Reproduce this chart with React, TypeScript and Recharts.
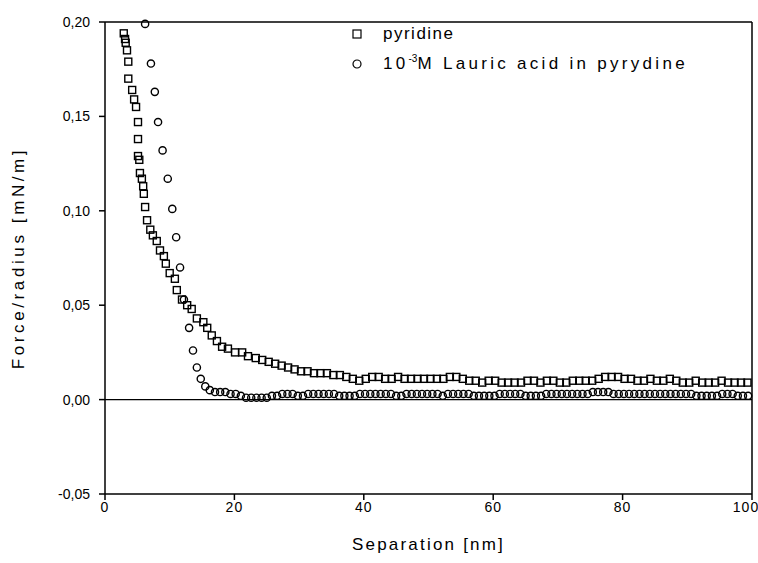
import { ScatterChart, Scatter, XAxis, YAxis, ReferenceLine } from "recharts";

// force/radius vs separation, [nm, mN/m]
const pyridine: [number, number][] = [
  [2.9, 0.194], [3.1, 0.191], [3.2, 0.189], [3.4, 0.185], [3.6, 0.179], [3.6, 0.17],
  [4.2, 0.164], [4.5, 0.159], [4.8, 0.155], [5.1, 0.147], [5.1, 0.138], [5.1, 0.129],
  [5.3, 0.127], [5.4, 0.12], [5.7, 0.117], [5.9, 0.113], [6.0, 0.109], [6.2, 0.102],
  [6.5, 0.095], [7.0, 0.09], [7.4, 0.087], [8.0, 0.084], [8.5, 0.079], [9.1, 0.076],
  [9.4, 0.072], [10.0, 0.067], [10.8, 0.064], [11.1, 0.058], [11.9, 0.053], [12.7, 0.05],
  [13.4, 0.048], [14.2, 0.043], [15.2, 0.041], [15.8, 0.038], [16.5, 0.034], [17.3, 0.031],
  [18.1, 0.028], [19.0, 0.027], [20.1, 0.025], [21.2, 0.025], [22.1, 0.023], [23.3, 0.022],
  [24.3, 0.021], [25.3, 0.02], [26.3, 0.019], [27.3, 0.018], [28.3, 0.017], [29.3, 0.016],
  [30.3, 0.015], [31.3, 0.015], [32.3, 0.014], [33.3, 0.014], [34.3, 0.014], [35.3, 0.013],
  [36.3, 0.013], [37.3, 0.012], [38.3, 0.011], [39.3, 0.01], [40.3, 0.011], [41.3, 0.012],
  [42.3, 0.012], [43.3, 0.011], [44.3, 0.011], [45.3, 0.012], [46.3, 0.011], [47.3, 0.011],
  [48.3, 0.011], [49.3, 0.011], [50.3, 0.011], [51.3, 0.011], [52.3, 0.011], [53.3, 0.012],
  [54.3, 0.012], [55.3, 0.011], [56.3, 0.01], [57.3, 0.01], [58.3, 0.009], [59.3, 0.01],
  [60.3, 0.01], [61.3, 0.009], [62.3, 0.009], [63.3, 0.009], [64.3, 0.009], [65.3, 0.01],
  [66.3, 0.01], [67.3, 0.009], [68.3, 0.01], [69.3, 0.01], [70.3, 0.009], [71.3, 0.009],
  [72.3, 0.01], [73.3, 0.01], [74.3, 0.01], [75.3, 0.01], [76.3, 0.011], [77.3, 0.012],
  [78.3, 0.012], [79.3, 0.012], [80.3, 0.011], [81.3, 0.011], [82.3, 0.01], [83.3, 0.01],
  [84.3, 0.011], [85.3, 0.01], [86.3, 0.01], [87.3, 0.011], [88.3, 0.01], [89.3, 0.009],
  [90.3, 0.009], [91.3, 0.01], [92.3, 0.009], [93.3, 0.009], [94.3, 0.009], [95.3, 0.01],
  [96.3, 0.009], [97.3, 0.009], [98.3, 0.009], [99.3, 0.009],
];

const lauric: [number, number][] = [
  [6.2, 0.199], [7.1, 0.178], [7.7, 0.163], [8.2, 0.147], [8.9, 0.132], [9.7, 0.117],
  [10.4, 0.101], [11.0, 0.086], [11.6, 0.07], [12.2, 0.053], [13.0, 0.038], [13.6, 0.026],
  [14.2, 0.017], [14.8, 0.011], [15.5, 0.007], [16.2, 0.005], [17.0, 0.004], [17.8, 0.004],
  [18.6, 0.004], [19.4, 0.003], [20.2, 0.003], [21.0, 0.002], [21.8, 0.001], [22.6, 0.001],
  [23.4, 0.001], [24.2, 0.001], [25.0, 0.001], [25.8, 0.002], [26.6, 0.002], [27.4, 0.003],
  [28.2, 0.003], [29.0, 0.003], [29.8, 0.002], [30.6, 0.002], [31.4, 0.003], [32.2, 0.003],
  [33.0, 0.003], [33.8, 0.003], [34.6, 0.003], [35.4, 0.003], [36.2, 0.002], [37.0, 0.002],
  [37.8, 0.002], [38.6, 0.002], [39.4, 0.003], [40.2, 0.003], [41.0, 0.003], [41.8, 0.003],
  [42.6, 0.003], [43.4, 0.003], [44.2, 0.003], [45.0, 0.002], [45.8, 0.002], [46.6, 0.003],
  [47.4, 0.003], [48.2, 0.003], [49.0, 0.003], [49.8, 0.003], [50.6, 0.003], [51.4, 0.003],
  [52.2, 0.002], [53.0, 0.003], [53.8, 0.003], [54.6, 0.003], [55.4, 0.003], [56.2, 0.003],
  [57.0, 0.002], [57.8, 0.002], [58.6, 0.002], [59.4, 0.002], [60.2, 0.002], [61.0, 0.003],
  [61.8, 0.003], [62.6, 0.003], [63.4, 0.003], [64.2, 0.003], [65.0, 0.002], [65.8, 0.002],
  [66.6, 0.002], [67.4, 0.002], [68.2, 0.003], [69.0, 0.003], [69.8, 0.003], [70.6, 0.003],
  [71.4, 0.003], [72.2, 0.003], [73.0, 0.003], [73.8, 0.003], [74.6, 0.003], [75.4, 0.004],
  [76.2, 0.004], [77.0, 0.004], [77.8, 0.004], [78.6, 0.003], [79.4, 0.003], [80.2, 0.003],
  [81.0, 0.003], [81.8, 0.003], [82.6, 0.003], [83.4, 0.003], [84.2, 0.003], [85.0, 0.003],
  [85.8, 0.003], [86.6, 0.003], [87.4, 0.003], [88.2, 0.003], [89.0, 0.003], [89.8, 0.003],
  [90.6, 0.003], [91.4, 0.002], [92.2, 0.002], [93.0, 0.002], [93.8, 0.002], [94.6, 0.002],
  [95.4, 0.003], [96.2, 0.003], [97.0, 0.003], [97.8, 0.002], [98.6, 0.002], [99.4, 0.002],
];

const xTicks = [0, 20, 40, 60, 80, 100];
const yTicks = [-0.05, 0, 0.05, 0.1, 0.15, 0.2];

const FONT = "'Liberation Sans', Arial, sans-serif";

const toPoints = (rows: [number, number][]) => rows.map(([x, y]) => ({ x, y }));

const SquareMark = (props: any) => {
  const { cx, cy } = props;
  if (cx == null || cy == null) return null;
  return <rect x={cx - 3.5} y={cy - 3.5} width={7} height={7} fill="none" stroke="#000" strokeWidth={1.4} />;
};

const CircleMark = (props: any) => {
  const { cx, cy } = props;
  if (cx == null || cy == null) return null;
  return <circle cx={cx} cy={cy} r={3.6} fill="none" stroke="#000" strokeWidth={1.4} />;
};

const fmtY = (v: number) => v.toFixed(2).replace(".", ",");

// legend sits inside the plot, right of the curves
const LegendBox = () => (
  <div
    style={{
      position: "absolute",
      left: 352,
      top: 19,
      fontFamily: FONT,
      fontSize: 17,
      color: "#000",
      lineHeight: "30px",
      whiteSpace: "nowrap",
    }}
  >
    <div style={{ display: "flex", alignItems: "center" }}>
      <svg width={31} height={14}>
        <rect x={1} y={3} width={8} height={8} fill="none" stroke="#000" strokeWidth={1.2} />
      </svg>
      <span style={{ letterSpacing: 1.5 }}>pyridine</span>
    </div>
    <div style={{ display: "flex", alignItems: "center" }}>
      <svg width={31} height={14}>
        <circle cx={5} cy={7} r={4} fill="none" stroke="#000" strokeWidth={1.2} />
      </svg>
      <span style={{ letterSpacing: 3.3 }}>
        10<sup style={{ fontSize: 10, lineHeight: 0, letterSpacing: 0 }}>-3</sup>M Lauric acid in pyrydine
      </span>
    </div>
  </div>
);

export default function App() {
  return (
    <div style={{ position: "absolute", left: 0, top: 0, width: 758, height: 563, background: "#fff" }}>
      <ScatterChart width={758} height={563} margin={{ top: 22, right: 6, bottom: 9, left: 5 }}>
        <XAxis
          type="number"
          dataKey="x"
          domain={[0, 100]}
          ticks={xTicks}
          tickFormatter={(v) => String(v)}
          height={60}
          tickSize={6}
          stroke="#000"
          strokeWidth={1.5}
          tick={{ fill: "#000", fontSize: 14, fontFamily: FONT, style: { letterSpacing: 1 } }}
          label={{
            value: "Separation [nm]",
            position: "insideBottom",
            offset: 4,
            fill: "#000",
            fontSize: 17,
            fontFamily: FONT,
            style: { letterSpacing: 2.2 },
          }}
        />
        <YAxis
          type="number"
          dataKey="y"
          domain={[-0.05, 0.2]}
          ticks={yTicks}
          tickFormatter={fmtY}
          width={100}
          tickSize={6}
          tickMargin={9}
          stroke="#000"
          strokeWidth={1.5}
          tick={{ fill: "#000", fontSize: 14, fontFamily: FONT }}
          label={{
            value: "Force/radius [mN/m]",
            angle: -90,
            position: "insideLeft",
            offset: 13,
            fill: "#000",
            fontSize: 17,
            fontFamily: FONT,
            style: { textAnchor: "middle", letterSpacing: 3.6 },
          }}
        />
        <ReferenceLine y={0.2} stroke="#000" strokeWidth={1.5} />
        <ReferenceLine x={100} stroke="#000" strokeWidth={1.5} />
        <ReferenceLine y={0} stroke="#000" strokeWidth={1.2} />
        <Scatter name="pyridine" data={toPoints(pyridine)} shape={SquareMark} isAnimationActive={false} />
        <Scatter name="lauric" data={toPoints(lauric)} shape={CircleMark} isAnimationActive={false} />
      </ScatterChart>
      <LegendBox />
    </div>
  );
}
